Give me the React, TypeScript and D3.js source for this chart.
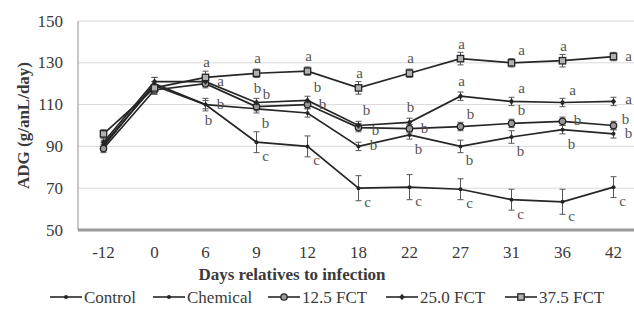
import React from "react";
import * as d3 from "d3";

const days = ["-12", "0", "6", "9", "12", "18", "22", "27", "31", "36", "42"];
const yTicks = [50, 70, 90, 110, 130, 150];

const control = [90, 120, 110, 92, 90, 70, 70.5, 69.5, 64.5, 63.5, 70.5];
const chemical = [91, 119, 110, 108, 106, 90, 95.5, 90, 94.5, 98, 96];
const fct125 = [89, 117, 120, 109, 110, 99, 98.5, 99.5, 101, 102, 100];
const fct250 = [92, 121, 121, 111, 112, 100, 101.5, 114, 111.5, 111, 111.5];
const fct375 = [96, 118, 123, 125, 126, 118, 125, 132, 130, 131, 133];

const seControl = [2, 3, 3, 5, 5, 6, 6, 5, 5, 6, 5];
const seChemical = [2, 2, 2, 2, 2, 2, 2, 3, 3, 2, 2];
const se125 = [2, 2, 2, 2, 2, 2, 2, 2, 2, 2, 2];
const se250 = [2, 2, 2, 2, 2, 2, 2, 2, 2, 2, 2];
const se375 = [2, 3, 3, 2, 2, 3, 2, 3, 2, 3, 2];

const seriesNames = ["Control", "Chemical", "12.5 FCT", "25.0 FCT", "37.5 FCT"];
const seriesValues = [control, chemical, fct125, fct250, fct375];
const seriesSE = [seControl, seChemical, se125, se250, se375];
const markerKinds = ["dot", "dot", "circle", "diamond", "square"];

// significance letters: [seriesIndex, dayIndex, letter, placement]
const letters: [number, number, string, string][] = [
  [4, 2, "a", "A"], [3, 2, "a", "R"], [1, 2, "b", "R"], [0, 2, "b", "B"],
  [4, 3, "a", "A"], [3, 3, "b", "A"], [2, 3, "b", "AR"], [1, 3, "b", "BR"], [0, 3, "c", "BR"],
  [4, 4, "a", "A"], [3, 4, "b", "AR"], [2, 4, "b", "R"], [0, 4, "c", "BR"],
  [4, 5, "a", "A"], [3, 5, "b", "AH"], [2, 5, "b", "RR"], [1, 5, "b", "R"], [0, 5, "c", "BR"],
  [4, 6, "a", "A"], [3, 6, "b", "A"], [2, 6, "b", "R"], [1, 6, "b", "BR"], [0, 6, "c", "BR"],
  [4, 7, "a", "A"], [3, 7, "a", "A"], [2, 7, "b", "AR"], [1, 7, "b", "BR"], [0, 7, "c", "BR"],
  [4, 8, "a", "AR"], [3, 8, "a", "AR"], [2, 8, "b", "AR"], [1, 8, "b", "BR"], [0, 8, "c", "BR"],
  [4, 9, "a", "A"], [3, 9, "a", "AR"], [2, 9, "b", "R"], [1, 9, "b", "BR"], [0, 9, "c", "BR"],
  [4, 10, "a", "R"], [3, 10, "a", "RH"], [2, 10, "b", "RU"], [1, 10, "b", "R"], [0, 10, "c", "BR"],
];

const placement: Record<string, [number, number]> = {
  A: [1, -15],
  AH: [8, -16],
  AR: [10, -13],
  R: [15, -1],
  RH: [15, -2],
  RU: [12, -7],
  RR: [17, 2],
  BR: [9, 14],
  B: [3, 15],
};

const W = 634;
const H = 310;
const left = 78;
const bandW = 51;
const top = 21;
const bottom = 230;

const FONT = '"Liberation Serif", "Times New Roman", serif';
const textColor = "#3a3a3a";
const lineColor = "#262626";

function Marker({ kind, x, y }: { kind: string; x: number; y: number }) {
  if (kind === "dot") return <circle cx={x} cy={y} r={2} fill={lineColor} />;
  if (kind === "circle")
    return <circle cx={x} cy={y} r={3.2} fill="#9a9a9a" stroke={lineColor} strokeWidth={1.3} />;
  if (kind === "diamond")
    return (
      <path
        d={`M${x},${y - 3.2}L${x + 2.6},${y}L${x},${y + 3.2}L${x - 2.6},${y}Z`}
        fill={lineColor}
      />
    );
  return (
    <rect x={x - 3.2} y={y - 3.2} width={6.4} height={6.4} fill="#b0b0b0" stroke={lineColor} strokeWidth={1.3} />
  );
}

function T(props: any) {
  const { size = 17, weight, children, ...rest } = props;
  return (
    <text
      {...rest}
      fill={props.fill || textColor}
      style={{ fontFamily: FONT, fontSize: size + "px", fontWeight: weight || "normal" }}
    >
      {children}
    </text>
  );
}

export default function App() {
  const x = d3.scaleBand<string>().domain(days).range([left, left + bandW * days.length]).padding(0);
  const cx = (d: string) => (x(d) as number) + x.bandwidth() / 2;
  const y = d3.scaleLinear().domain([50, 150]).range([bottom, top]);
  const line = d3
    .line<number>()
    .x((_, i) => cx(days[i]))
    .y((v) => y(v));

  const legendX = [50, 153, 268, 386, 505];

  return (
    <svg
      width={W}
      height={H}
      style={{ position: "absolute", left: 0, top: 0, background: "#fff" }}
    >
      {yTicks.slice(1).map((t) => (
        <line key={t} x1={left} x2={W} y1={y(t)} y2={y(t)} stroke="#d9d9d9" strokeWidth={1} />
      ))}
      <line x1={left} x2={left} y1={top} y2={bottom} stroke="#b5b5b5" strokeWidth={1.5} />
      <line x1={left} x2={W} y1={bottom} y2={bottom} stroke="#9a9a9a" strokeWidth={3} />
      {yTicks.map((t) => (
        <T key={t} x={left - 15} y={y(t)} textAnchor="end" dominantBaseline="central">
          {t}
        </T>
      ))}
      {days.map((d) => (
        <T key={d} x={cx(d)} y={252} textAnchor="middle" dominantBaseline="central">
          {d}
        </T>
      ))}
      <T x={292} y={274} textAnchor="middle" dominantBaseline="central" weight="bold">
        Days relatives to infection
      </T>
      <T
        transform={`translate(23,${(top + bottom) / 2}) rotate(-90)`}
        textAnchor="middle"
        dominantBaseline="central"
        weight="bold"
      >
        ADG (g/anL/day)
      </T>
      {seriesValues.map((vals, s) =>
        vals.map((v, i) => {
          const px = cx(days[i]);
          const e = seriesSE[s][i];
          return (
            <g key={`e${s}-${i}`} stroke="#555" strokeWidth={1}>
              <line x1={px} x2={px} y1={y(v + e)} y2={y(v - e)} />
              <line x1={px - 3} x2={px + 3} y1={y(v + e)} y2={y(v + e)} />
              <line x1={px - 3} x2={px + 3} y1={y(v - e)} y2={y(v - e)} />
            </g>
          );
        })
      )}
      {seriesValues.map((vals, s) => (
        <path key={`l${s}`} d={line(vals) as string} fill="none" stroke={lineColor} strokeWidth={1.7} />
      ))}
      {seriesValues.map((vals, s) =>
        vals.map((v, i) => <Marker key={`m${s}-${i}`} kind={markerKinds[s]} x={cx(days[i])} y={y(v)} />)
      )}
      {letters.map(([s, i, t, p], k) => {
        const [dx, dy] = placement[p];
        return (
          <T
            key={`t${k}`}
            x={cx(days[i]) + dx}
            y={y(seriesValues[s][i]) + dy}
            textAnchor="middle"
            dominantBaseline="central"
            fill="#555"
            size={15}
          >
            {t}
          </T>
        );
      })}
      {seriesNames.map((name, s) => {
        const lx = legendX[s];
        const ly = 297;
        return (
          <g key={`lg${s}`}>
            <line x1={lx} x2={lx + 32} y1={ly} y2={ly} stroke={lineColor} strokeWidth={1.6} />
            <Marker kind={markerKinds[s]} x={lx + 16} y={ly} />
            <T x={lx + 34} y={ly} dominantBaseline="central">
              {name}
            </T>
          </g>
        );
      })}
    </svg>
  );
}
